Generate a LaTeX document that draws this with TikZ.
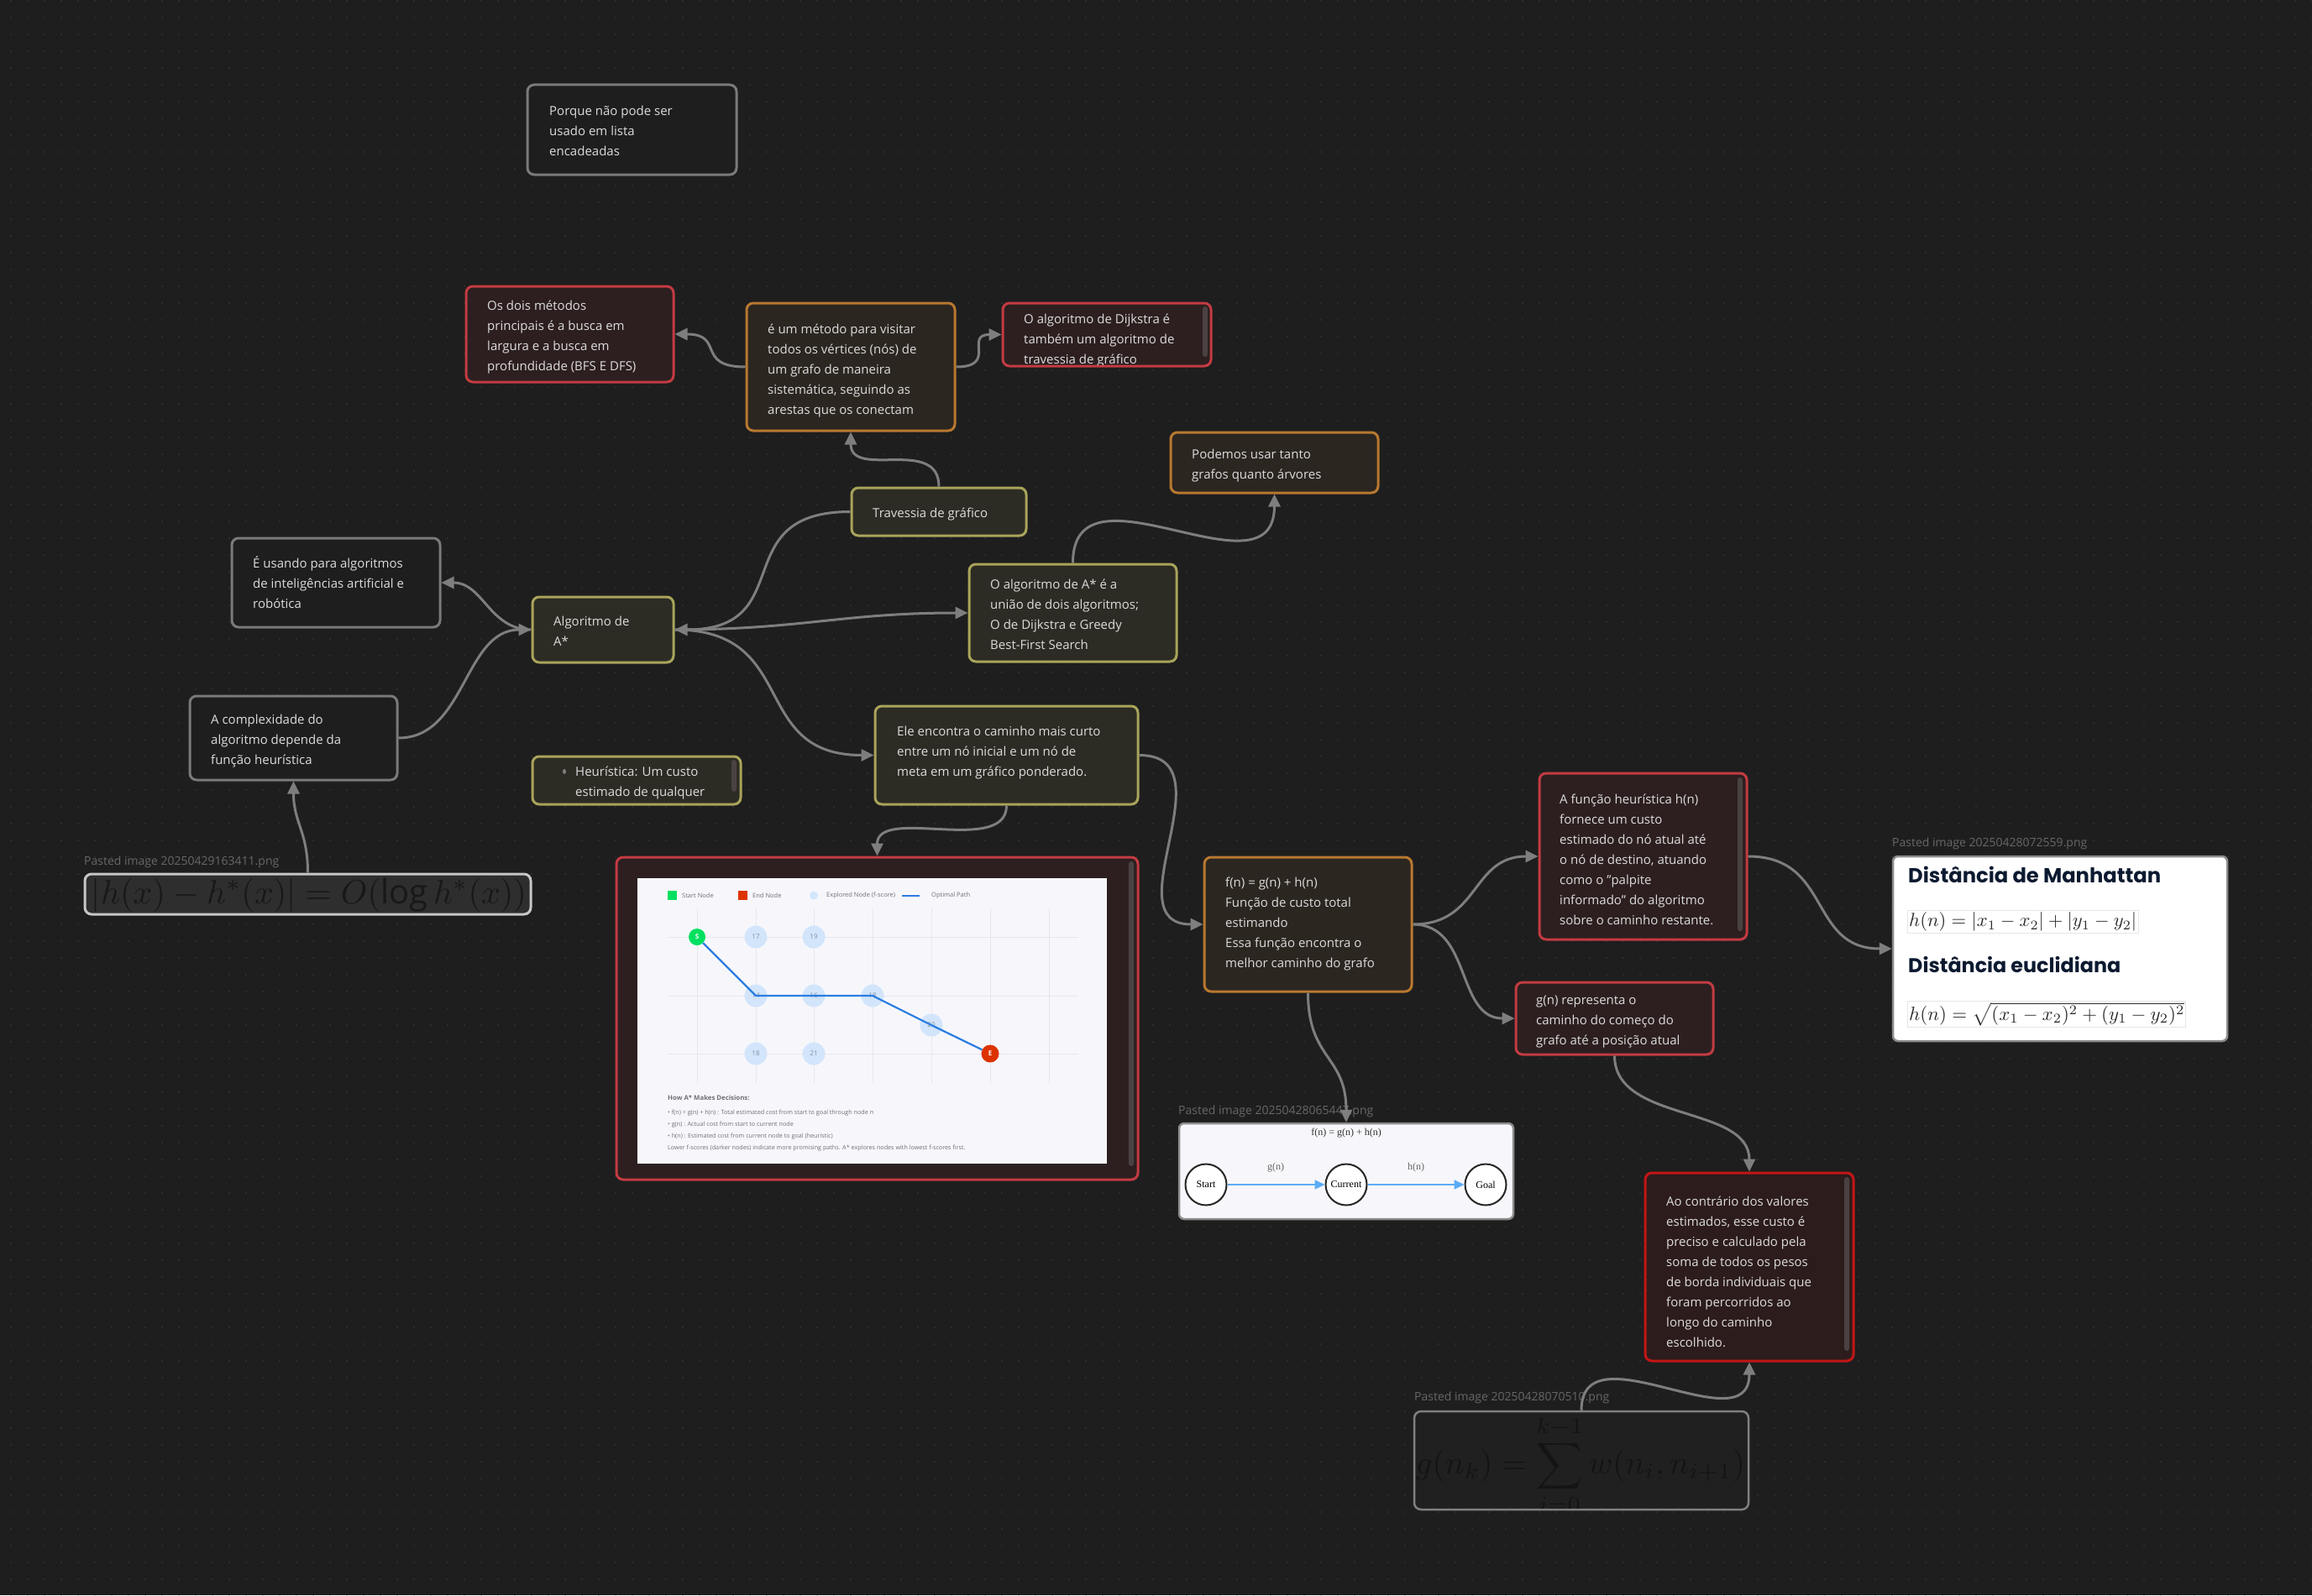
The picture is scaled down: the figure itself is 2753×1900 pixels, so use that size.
\documentclass[tikz,border=0pt]{standalone}
\usepackage{amsmath}
\usepackage{graphicx}
\usepackage{fontspec}
\setmainfont{Open Sans}
\newfontfamily\timesf{Liberation Serif}
\newfontfamily\popf{Poppins}
\usetikzlibrary{arrows.meta,fit}

\definecolor{bgc}{HTML}{1E1E1E}
\definecolor{dotc}{HTML}{2C2C2C}
\definecolor{textc}{HTML}{DCDCDC}
\definecolor{edgec}{HTML}{7E7E7E}
\definecolor{oliveB}{HTML}{A9A45A}
\definecolor{oliveF}{HTML}{2D2C24}
\definecolor{orangeB}{HTML}{B8782F}
\definecolor{orangeF}{HTML}{2C2621}
\definecolor{redB}{HTML}{C33B42}
\definecolor{redF}{HTML}{2D1F20}
\definecolor{redTB}{HTML}{C41515}
\definecolor{redTF}{HTML}{2D1C1C}
\definecolor{grayB}{HTML}{7A7A7A}
\definecolor{capc}{HTML}{676767}
\definecolor{scrollc}{HTML}{4A4242}
\definecolor{imgc}{HTML}{F7F7FB}
\definecolor{gridc}{HTML}{E6E6EE}
\definecolor{startc}{HTML}{00E060}
\definecolor{endc}{HTML}{DD3300}
\definecolor{explc}{HTML}{D2E5FB}
\definecolor{pathc}{HTML}{2A7DE1}
\definecolor{legc}{HTML}{6F6F78}
\definecolor{numc}{HTML}{8592A6}
\definecolor{arrc}{HTML}{5AACF5}
\definecolor{navyc}{HTML}{0B1A30}
\definecolor{fml}{HTML}{2A2A2A}
\definecolor{darkf}{HTML}{181818}
\definecolor{ufill}{HTML}{202020}
\definecolor{uform}{HTML}{141414}

\tikzset{
  cbox/.style={draw, line width=3pt, rounded corners=8pt, inner sep=0pt},
  olivebox/.style={cbox, draw=oliveB, fill=oliveF},
  orangebox/.style={cbox, draw=orangeB, fill=orangeF},
  redbox/.style={cbox, draw=redB, fill=redF},
  redtbox/.style={cbox, draw=redTB, fill=redTF},
  graybox/.style={cbox, draw=grayB, fill=bgc},
  txt/.style={anchor=base west, inner sep=0pt, align=left, text=textc, font=\fontsize{15}{24}\selectfont},
  captxt/.style={anchor=west, inner sep=0pt, text=capc, font=\fontsize{14}{16}\selectfont},
  conn/.style={draw=edgec, line width=3pt, -{Triangle[length=15pt,width=14pt]}},
  scroll/.style={fill=scrollc, rounded corners=3pt},
  leg/.style={anchor=west, inner sep=0pt, text=legc, font=\fontsize{7.5}{9}\selectfont},
  expl/.style={circle, fill=explc, minimum size=27pt, inner sep=0pt, text=numc, font=\fontsize{8}{9}\selectfont},
  ntext/.style={anchor=west, inner sep=0pt, text=legc, font=\fontsize{7.2}{9}\selectfont},
  tcirc/.style={circle, draw=black!85, line width=2pt, fill=white, minimum size=49pt, inner sep=0pt, font=\timesf\fontsize{12}{14}\selectfont},
  tlab/.style={inner sep=0pt, text=black!60, font=\timesf\fontsize{12}{14}\selectfont},
  barrow/.style={draw=arrc, line width=2pt, -{Triangle[length=12pt,width=11pt]}},
  dotcol/.style={draw=dotc, line width=2pt, dash pattern=on 2pt off 18pt},
}

\begin{document}
\begin{tikzpicture}[x=1pt,y=-1pt]
\fill[bgc] (0,0) rectangle (2753,1900);
\useasboundingbox (0,0) rectangle (2753,1900);
\foreach \x in {13,33,...,2753} { \draw[dotcol] (\x,0) -- (\x,1900); }

% ---------- boxes (text anchors: baseline of the last line) ----------
\node[graybox, fit={(628,101) (877,208)}] (A) {};
\node[txt] (At) at (654,185.5) {Porque não pode ser\\usado em lista\\encadeadas};

\node[redbox, fit={(555,341) (802,455)}] (B) {};
\node[txt] (Bt) at (580,441.5) {Os dois métodos\\principais é a busca em\\largura e a busca em\\profundidade (BFS E DFS)};

\node[orangebox, fit={(889,361) (1137,513)}] (C) {};
\node[txt] (Ct) at (914,493.5) {é um método para visitar\\todos os vértices (nós) de\\um grafo de maneira\\sistemática, seguindo as\\arestas que os conectam};

\node[redbox, fit={(1194,361) (1442,436)}] (D) {};
\begin{scope}
\clip (1196,363) rectangle (1440,434.5);
\node[txt] (Dt) at (1219,433.5) {O algoritmo de Dijkstra é\\também um algoritmo de\\travessia de gráfico};
\end{scope}
\fill[scroll] (1432,365) rectangle (1438,425);

\node[olivebox, fit={(1014,581) (1222,638)}] (E) {};
\node[txt] (Et) at (1039,616.5) {Travessia de gráfico};

\node[orangebox, fit={(1394,515) (1641,587)}] (F) {};
\node[txt] (Ft) at (1419,570.5) {Podemos usar tanto\\grafos quanto árvores};

\node[olivebox, fit={(1154,672) (1401,788)}] (G) {};
\node[txt] (Gt) at (1179,773.5) {O algoritmo de A* é a\\união de dois algoritmos;\\O de Dijkstra e Greedy\\Best-First Search};

\node[olivebox, fit={(634,711) (802,789)}] (H) {};
\node[txt] (Ht) at (659,769.5) {Algoritmo de\\A*};

\node[graybox, fit={(276,641) (524,747)}] (I) {};
\node[txt] (It) at (301,724.5) {É usando para algoritmos\\de inteligências artificial e\\robótica};

\node[graybox, fit={(226,829) (473,929)}] (J) {};
\node[txt] (Jt) at (251,910.5) {A complexidade do\\algoritmo depende da\\função heurística};

\node[olivebox, fit={(634,901) (882,958)}] (K) {};
\fill[edgec] (672,919) ellipse (2 and 3);
\node[txt] (Kt) at (685,948.5) {Heurística: Um custo\\estimado de qualquer};
\fill[scroll] (871,905) rectangle (877,943);

\node[olivebox, fit={(1042,841) (1355,958)}] (M) {};
\node[txt] (Mt) at (1068,924.5) {Ele encontra o caminho mais curto\\entre um nó inicial e um nó de\\meta em um gráfico ponderado.};

\node[orangebox, fit={(1434,1021) (1681,1181)}] (O) {};
\node[txt] (Ot) at (1459,1152.5) {f(n) = g(n) + h(n)\\Função de custo total\\estimando\\Essa função encontra o\\melhor caminho do grafo};

\node[redbox, fit={(1833,921) (2080,1119)}] (P) {};
\node[txt] (Pt) at (1857,1101.5) {A função heurística h(n)\\fornece um custo\\estimado do nó atual até\\o nó de destino, atuando\\como o "palpite\\informado" do algoritmo\\sobre o caminho restante.};
\fill[scroll] (2069,926) rectangle (2075,1109);

\node[redbox, fit={(1805,1170) (2040,1256)}] (Q) {};
\node[txt] (Qt) at (1829,1244.5) {g(n) representa o\\caminho do começo do\\grafo até a posição atual};

\node[redtbox, fit={(1959,1397) (2207,1621)}] (T) {};
\node[txt] (Tt) at (1984,1604.5) {Ao contrário dos valores\\estimados, esse custo é\\preciso e calculado pela\\soma de todos os pesos\\de borda individuais que\\foram percorridos ao\\longo do caminho\\escolhido.};
\fill[scroll] (2196,1402) rectangle (2202,1609);

% ---------- image: h(x) formula ----------
\node[captxt] (Lc) at (100,1027) {Pasted image 20250429163411.png};
\node[cbox, draw=black!22, fill=black!82, fit={(101,1041) (632,1089)}] (L) {};
\begin{scope}
\clip (103,1043) rectangle (630,1087);
\node[inner sep=0pt, text=darkf] (Lf) at (368,1066) {\resizebox{518pt}{!}{$|h(x) - h^*(x)| = O(\log h^*(x))$}};
\end{scope}

% ---------- image: A* grid ----------
\node[redbox, fit={(734,1021) (1355,1405)}] (N) {};
\fill[imgc] (759,1046) rectangle (1318,1386);
\fill[scroll] (1344,1026) rectangle (1350,1389);
\draw[gridc, line width=1pt] foreach \x in {830,900,969,1039,1109,1179,1249} {(\x,1082) -- (\x,1290)};
\draw[gridc, line width=1pt] foreach \y in {1116,1186,1255} {(795,\y) -- (1284,\y)};
\fill[startc] (795,1061) rectangle (806,1072);
\node[leg] (lg1) at (812,1066.5) {Start Node};
\fill[endc] (879,1061) rectangle (890,1072);
\node[leg] (lg2) at (896,1066.5) {End Node};
\fill[explc] (969,1066.5) circle (5);
\node[leg] (lg3) at (984,1066.5) {Explored Node (f-score)};
\draw[pathc, line width=2pt] (1074,1066.5) -- (1095,1066.5);
\node[leg] (lg4) at (1109,1066.5) {Optimal Path};
\node[expl] (x17) at (900,1116) {17};
\node[expl] (x19) at (969,1116) {19};
\node[expl] (x14) at (900,1186) {14};
\node[expl] (x16) at (969,1186) {16};
\node[expl] (x18a) at (1039,1186) {18};
\node[expl] (x20) at (1109,1221) {20};
\node[expl] (x18b) at (900,1255) {18};
\node[expl] (x21) at (969,1255) {21};
\node[circle, fill=startc, minimum size=20pt, inner sep=0pt, text=white, font=\bfseries\fontsize{8}{9}\selectfont] (sn) at (830,1116) {S};
\node[circle, fill=endc, minimum size=21pt, inner sep=0pt, text=white, font=\bfseries\fontsize{8}{9}\selectfont] (en) at (1179,1255) {E};
\draw[pathc, line width=2.2pt] (sn) -- (x14.center) -- (x16.center) -- (x18a.center) -- (x20.center) -- (en);
\node[ntext, font=\bfseries\fontsize{7.8}{9}\selectfont] (how) at (795,1308) {How A* Makes Decisions:};
\node[ntext] (nl1) at (795,1326) {• f(n) = g(n) + h(n) : Total estimated cost from start to goal through node n};
\node[ntext] (nl2) at (795,1340) {• g(n) : Actual cost from start to current node};
\node[ntext] (nl3) at (795,1354) {• h(n) : Estimated cost from current node to goal (heuristic)};
\node[ntext] (nl4) at (795,1368) {Lower f-scores (darker nodes) indicate more promising paths. A* explores nodes with lowest f-scores first.};

% ---------- image: f = g + h diagram ----------
\node[captxt] (Sc) at (1403,1324) {Pasted image 20250428065447.png};
\node[cbox, draw=black!45, fill=imgc, line width=2.5pt, rounded corners=6pt, fit={(1404,1338) (1802,1452)}] (S) {};
\node[tlab, text=black!80] (Stit) at (1603,1350) {f(n) = g(n) + h(n)};
\node[tcirc] (Sst) at (1436,1411) {Start};
\node[tcirc] (Scu) at (1603,1411) {Current};
\node[tcirc] (Sgo) at (1769,1411) {Goal};
\draw[barrow] (Sst) -- (Scu);
\draw[barrow] (Scu) -- (Sgo);
\node[tlab] (Sg) at (1519,1391) {g(n)};
\node[tlab] (Sh) at (1686,1391) {h(n)};

% ---------- image: distances ----------
\node[captxt] (Rc) at (2253,1005) {Pasted image 20250428072559.png};
\node[cbox, draw=black!45, fill=white, line width=2.5pt, rounded corners=6pt, fit={(2254,1020) (2652,1240)}] (R) {};
\node[anchor=base west, inner sep=0pt, text=navyc] (Rh1) at (2272,1051) {\resizebox{301pt}{!}{\popf\bfseries Distância de Manhattan}};
\draw[black!10, fill=white, line width=1pt] (2271,1084) rectangle (2546,1111);
\node[anchor=west, inner sep=0pt, text=fml] (Rf1) at (2273,1098) {\resizebox{271pt}{!}{$h(n) = |x_1 - x_2| + |y_1 - y_2|$}};
\node[anchor=base west, inner sep=0pt, text=navyc] (Rh2) at (2272,1158) {\resizebox{253pt}{!}{\popf\bfseries Distância euclidiana}};
\draw[black!10, fill=white, line width=1pt] (2271,1192) rectangle (2602,1223);
\node[anchor=west, inner sep=0pt, text=fml] (Rf2) at (2273,1208) {\resizebox{328pt}{!}{$h(n) = \sqrt{(x_1 - x_2)^2 + (y_1 - y_2)^2}$}};

% ---------- image: g(n_k) formula ----------
\node[captxt] (Uc) at (1684,1665) {Pasted image 20250428070510.png};
\node[cbox, draw=black!50, line width=2.5pt, fill=ufill, fit={(1684,1681) (2082,1798)}] (U) {};
\begin{scope}
\clip (1686,1683) rectangle (2080,1796);
\node[inner sep=0pt, text=uform] (Uf) at (1882,1745) {\resizebox{392pt}{!}{$\displaystyle g(n_k) = \sum_{i=0}^{k-1} w(n_i, n_{i+1})$}};
\end{scope}

% ---------- connectors ----------
\draw[conn] (C.west) .. controls +(-60,0) and +(60,0) .. (B.east);
\draw[conn] (C.east) .. controls +(50,0) and +(-45,0) .. (D.west);
\draw[conn] (E.north) .. controls +(0,-60) and +(0,57) .. (C.south);
\draw[conn] (E.west) .. controls +(-150,0) and +(150,0) .. (H.east);
\draw[conn] (H.east) .. controls +(150,0) and +(-150,0) .. (G.west);
\draw[conn] (H.east) .. controls +(150,0) and +(-150,0) .. (M.west);
\draw[conn] (G.north) .. controls +(0,-130) and +(0,130) .. (F.south);
\draw[conn] (M.east) .. controls +(110,0) and +(-110,0) .. (O.west);
\draw[conn] (M.south) .. controls +(0,60) and +(0,-60) .. (N.north);
\draw[conn] (O.east) .. controls +(80,0) and +(-80,0) .. (P.west);
\draw[conn] (O.east) .. controls +(70,0) and +(-70,0) .. (Q.west);
\draw[conn] (O.south) .. controls +(0,80) and +(0,-80) .. (S.north);
\draw[conn] (P.east) .. controls +(100,0) and +(-100,0) .. (R.west);
\draw[conn] (Q.south) .. controls +(0,80) and +(0,-80) .. (T.north);
\draw[conn] (U.north) .. controls +(0,-100) and +(0,100) .. (T.south);
\draw[conn] (L.north) .. controls +(0,-50) and +(0,50) .. (J.south);
\draw[conn] (J.east) .. controls +(80,0) and +(-80,0) .. (H.west);
\draw[conn] (H.west) .. controls +(-50,0) and +(50,0) .. (I.east);
\end{tikzpicture}
\end{document}
